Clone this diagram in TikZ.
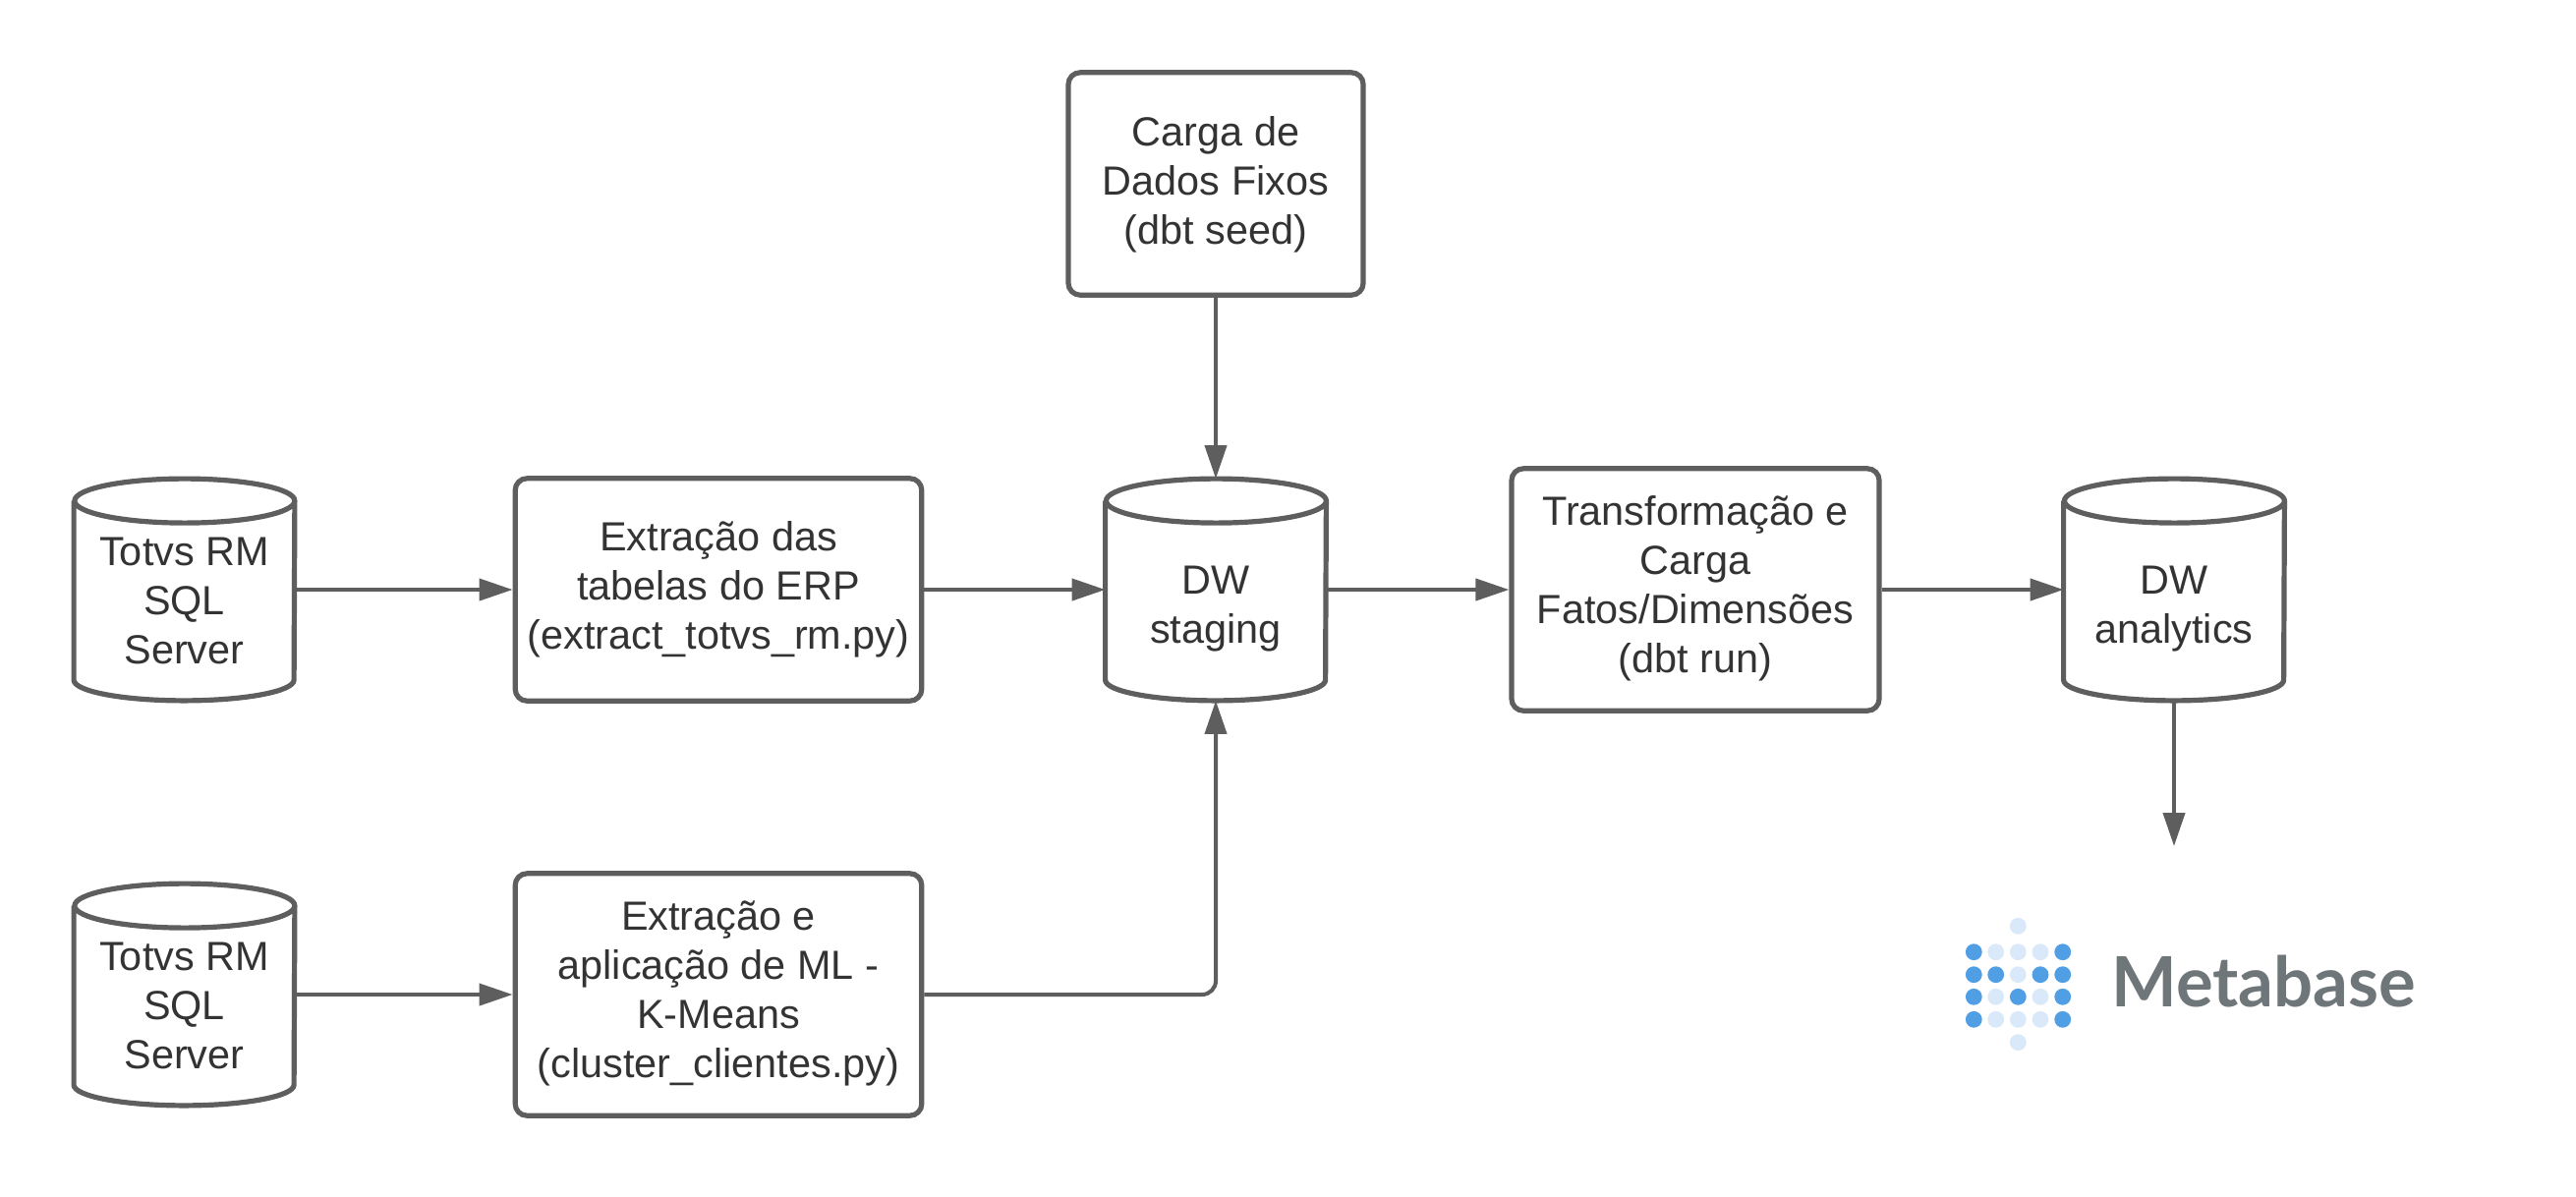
\documentclass[tikz,border=0pt]{standalone}
\usepackage{fontspec}
\setmainfont{Liberation Sans}
\newfontfamily\logofont{Lato}
\usetikzlibrary{arrows.meta}
\definecolor{edgegray}{HTML}{5E5E5E}
\definecolor{txtgray}{HTML}{333333}
\definecolor{dotdark}{HTML}{509EE3}
\definecolor{dotlight}{HTML}{DAE9F9}
\definecolor{logogray}{HTML}{6F7679}
\newcommand{\cyltop}{\rule{0pt}{26pt}}
\newcommand{\cyltwo}{\rule{0pt}{34pt}}
\newcommand{\boxlift}{\rule[-5pt]{0pt}{5pt}}
\newcommand{\boxdrop}{\rule{0pt}{15.5pt}}
\tikzset{
  every node/.style={font=\fontsize{20.7}{25}\selectfont, text=txtgray, align=center, inner sep=0pt},
  procbox/.style={draw=edgegray, line width=2.6pt, rounded corners=6pt, fill=white},
  dbcyl/.style={minimum width=112pt, minimum height=112.5pt},
  cylline/.style={draw=edgegray, line width=2.6pt, line join=round},
  flow/.style={draw=edgegray, line width=2pt, -{Triangle[length=17pt,width=11pt]}},
  dotd/.style={circle, fill=dotdark, minimum size=8.4pt},
  dotl/.style={circle, fill=dotlight, minimum size=8.4pt}
}
\begin{document}
\begin{tikzpicture}[x=0.5pt,y=-0.5pt]
\useasboundingbox[fill=white] (0,0) rectangle (2621,1217);
\node[dbcyl] (src1) at (187.5,600) {\cyltop Totvs RM\\SQL\\Server};
\node[dbcyl] (src2) at (187.5,1012) {\cyltop Totvs RM\\SQL\\Server};
\node[dbcyl] (stg) at (1237,600) {\cyltwo DW\\staging};
\node[dbcyl] (ana) at (2212,600) {\cyltwo DW\\analytics};
\foreach \n in {src1,src2,stg,ana}
  \draw[cylline] ([yshift=-11.25pt]\n.north west) -- ([yshift=10.5pt]\n.south west)
    arc[start angle=180, end angle=360, x radius=56pt, y radius=10.5pt]
    -- ([yshift=-11.25pt]\n.north east)
    arc[start angle=0, end angle=360, x radius=56pt, y radius=11.25pt];
\node[procbox, minimum width=206.8pt, minimum height=113.2pt] (ext1) at (731,600) {Extração das\\tabelas do ERP\\(extract\_totvs\_rm.py)\boxlift};
\node[procbox, minimum width=206.8pt, minimum height=123.2pt] (ext2) at (731,1012) {Extração e\\aplicação de ML -\\K-Means\\(cluster\_clientes.py)\boxlift};
\node[procbox, minimum width=150pt, minimum height=113.2pt] (seed) at (1237,187) {\boxdrop Carga de\\Dados Fixos\\(dbt seed)};
\node[procbox, minimum width=187pt, minimum height=123.2pt] (trf) at (1725,600) {Transformação e\\Carga\\Fatos/Dimensões\\(dbt run)\boxlift};
\coordinate (mb) at (2212,861);
\draw[flow] (src1.east) -- (ext1.west);
\draw[flow] (ext1.east) -- (stg.west);
\draw[flow] (stg.east) -- (trf.west);
\draw[flow] (trf.east) -- (ana.west);
\draw[flow] (seed.south) -- (stg.north);
\draw[flow] (src2.east) -- (ext2.west);
\draw[flow, rounded corners=7pt] (ext2.east) -| (stg.south);
\draw[flow] (ana.south) -- (mb);
% Metabase logo
\foreach \cx/\cy/\st [count=\i] in {
  2053.3/942.3/dotl,
  2008.3/968.7/dotd,2030.7/968.7/dotl,2053.3/968.7/dotl,2076/968.7/dotl,2098.7/968.7/dotd,
  2008.3/991.7/dotd,2030.7/991.7/dotd,2053.3/991.7/dotl,2076/991.7/dotd,2098.7/991.7/dotd,
  2008.3/1014.3/dotd,2030.7/1014.3/dotl,2053.3/1014.3/dotd,2076/1014.3/dotl,2098.7/1014.3/dotd,
  2008.3/1037.3/dotd,2030.7/1037.3/dotl,2053.3/1037.3/dotl,2076/1037.3/dotl,2098.7/1037.3/dotd,
  2053.3/1060.7/dotl}
  \node[\st] (dot\i) at (\cx,\cy) {};
\node[anchor=base west, text=logogray, font=\logofont\bfseries\fontsize{35.3}{40}\selectfont] (logo) at (2148,1024) {Metabase};
\end{tikzpicture}
\end{document}
